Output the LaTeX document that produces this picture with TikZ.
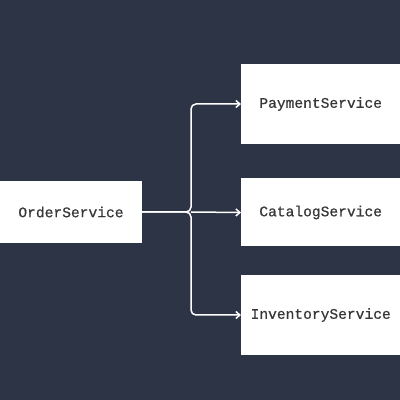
\documentclass[tikz,border=0pt]{standalone}
\usepackage{fontspec}
\setmonofont[FakeBold=0.6]{Liberation Mono}
\usetikzlibrary{math, arrows.meta}

\definecolor{bgnavy}{RGB}{45,52,70}
\definecolor{textgray}{RGB}{55,55,55}

\begin{document}
\begin{tikzpicture}[x=1pt, y=1pt,
    svc/.style={fill=white, draw=none, inner sep=0pt, text=textgray,
        font=\ttfamily\fontsize{14.6}{16}\selectfont},
    link/.style={draw=white, line width=1.5pt, rounded corners=5pt,
        -{Straight Barb[length=4pt, width=7pt]}}]

\tikzmath{
\split = 191;
\boxleft = 241;
\boxwidth = 161;
}

\clip (0,0) rectangle (400,400);
\fill[bgnavy] (0,0) rectangle (400,400);

\node[svc, minimum width=142pt, minimum height=62pt] (order) at (71,188) {OrderService};

\node[svc, minimum width=\boxwidth pt, minimum height=80pt, anchor=west] (payment) at (\boxleft,296) {\hspace{-2pt}PaymentService};
\node[svc, minimum width=\boxwidth pt, minimum height=68pt, anchor=west] (catalog) at (\boxleft,187.5) {\hspace{-2pt}CatalogService};
\node[svc, minimum width=\boxwidth pt, minimum height=80pt, anchor=west] (inventory) at (\boxleft,85) {\hspace{-2pt}InventoryService};

\coordinate (fork) at (\split,188);

%\draw (order.east) -- (fork);
\draw[link] (order.east) -- (fork) |- (payment.west);
\draw[link] (order.east) -- (fork) |- (inventory.west);
\draw[link] (fork) -- (catalog.west);

\end{tikzpicture}
\end{document}
